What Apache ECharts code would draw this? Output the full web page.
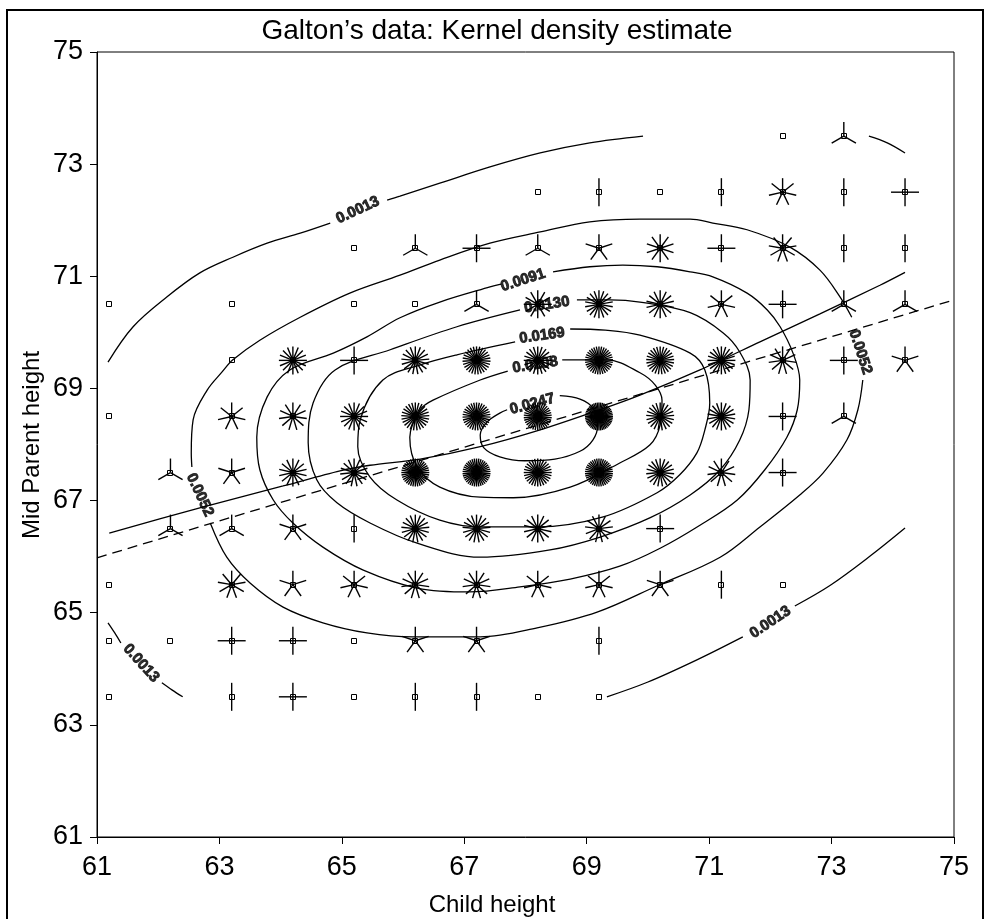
<!DOCTYPE html>
<html><head><meta charset="utf-8">
<script src="https://cdn.jsdelivr.net/npm/echarts@6/dist/echarts.min.js"></script>
<style>html,body{margin:0;padding:0;background:#fff}#c{width:984px;height:919px}</style>
</head><body><div id="c"></div>
<script>
// ---- Data (Galton's table) ----
const childHeights = [61.2,62.2,63.2,64.2,65.2,66.2,67.2,68.2,69.2,70.2,71.2,72.2,73.2,74.2];
const parentHeights = [63.5,64.5,65.5,66.5,67.5,68.5,69.5,70.5,71.5,72.5,73.5];
// counts[row = parent height][col = child height]
const counts = [
  [1,0,2,4,1,2,2,1,1,0,0,0,0,0],
  [1,1,4,4,1,5,5,0,2,0,0,0,0,0],
  [1,0,9,5,7,11,11,7,7,5,2,1,0,0],
  [0,3,3,5,2,17,17,14,13,4,0,0,0,0],
  [0,3,5,14,15,36,38,28,38,19,11,4,0,0],
  [1,0,7,11,16,25,31,34,48,21,18,4,3,0],
  [0,0,1,16,4,17,27,20,33,25,20,11,4,5],
  [1,0,1,0,1,1,3,12,18,14,7,4,3,3],
  [0,0,0,0,1,3,4,3,5,10,4,9,2,2],
  [0,0,0,0,0,0,0,1,2,1,2,7,2,4],
  [0,0,0,0,0,0,0,0,0,0,0,1,3,0]
];
const xTicks = [61,63,65,67,69,71,73,75];
const yTicks = [61,63,65,67,69,71,73,75];

// ---- Kernel density contours, split where labels sit ----
const contour0013 = [
  [[61.18,69.47],[61.59,70.10],[62.14,70.63],[62.68,71.06],[63.22,71.34],[63.78,71.59],[64.32,71.77],[64.81,71.95]],
  [[65.74,72.36],[65.95,72.43],[66.60,72.66],[67.42,72.95],[68.24,73.20],[69.05,73.38],[69.92,73.50]],
  [[73.61,73.50],[73.91,73.38],[74.20,73.20]],
  [[61.18,64.82],[61.29,64.64],[61.39,64.46]],
  [[62.06,63.75],[62.23,63.62],[62.40,63.50]],
  [[69.33,63.50],[69.99,63.76],[70.80,64.16],[71.55,64.57]],
  [[72.40,65.12],[72.98,65.49],[73.63,66.01],[74.20,66.51]]
];
const contour0052 = [
  [[62.55,67.60],[62.54,67.85],[62.57,68.44],[62.80,68.97],[63.04,69.29],[63.22,69.51],[63.66,69.86],[64.32,70.27],[65.13,70.70],[65.95,71.02],[66.60,71.29],[67.42,71.59],[68.24,71.79],[69.05,71.97],[69.87,72.02],[70.69,72.02],[71.06,71.95],[71.62,71.83],[72.32,71.52],[72.81,71.11],[73.14,70.63],[73.33,70.27]],
  [[73.51,69.15],[73.43,68.62],[73.25,68.08],[72.86,67.49],[72.48,67.10],[71.83,66.53],[71.18,65.99],[70.17,65.49],[69.17,65.01],[68.19,64.73],[67.26,64.57],[66.16,64.57],[65.41,64.64],[64.69,64.82],[64.04,65.10],[63.50,65.53],[63.12,65.99],[62.85,66.60]]
];
const contour0091 = [
  [[68.45,71.08],[69.05,71.17],[69.59,71.20],[70.15,71.17],[70.69,71.08],[71.06,70.99],[71.62,70.70],[71.95,70.40],[72.16,70.10],[72.37,69.63],[72.48,69.15],[72.44,68.62],[72.27,68.13],[71.91,67.55],[71.46,67.01],[70.85,66.56],[70.20,66.15],[69.54,65.83],[68.73,65.60],[67.91,65.46],[67.09,65.37],[66.23,65.44],[65.35,65.76],[64.69,66.17],[64.20,66.60],[63.88,67.01],[63.66,67.55],[63.61,68.13],[63.78,68.85],[64.15,69.33],[64.86,69.63],[65.41,69.92],[65.95,70.26],[66.60,70.54],[67.42,70.81],[67.60,70.86]]
];
const contour0130 = [
  [[68.84,70.58],[69.38,70.58],[69.87,70.54],[70.69,70.35],[71.23,69.99],[71.50,69.65],[71.67,69.15],[71.65,68.62],[71.50,68.08],[71.18,67.55],[70.69,67.10],[70.03,66.69],[69.22,66.35],[68.40,66.12],[67.26,65.99],[66.23,66.24],[65.46,66.60],[64.92,66.96],[64.59,67.37],[64.45,68.03],[64.53,68.74],[64.89,69.33],[65.79,69.69],[66.88,70.10],[67.91,70.40]]
];
const contour0169 = [
  [[68.73,70.06],[69.30,70.04],[69.87,69.95],[70.69,69.63],[70.93,69.33],[71.01,68.74],[70.93,68.26],[70.80,67.85],[70.52,67.46],[70.15,67.14],[69.27,66.71],[68.19,66.53],[67.26,66.53],[66.60,66.65],[65.90,67.01],[65.46,67.42],[65.26,67.96],[65.30,68.44],[65.67,69.15],[66.28,69.42],[66.88,69.60],[67.83,69.83]]
];
const contour0208 = [
  [[68.60,69.51],[69.33,69.51],[69.87,69.28],[70.12,69.06],[70.23,68.79],[70.20,68.35],[70.03,67.99],[69.54,67.67],[68.73,67.24],[67.80,67.05],[67.26,67.06],[66.60,67.24],[66.23,67.60],[66.11,68.13],[66.28,68.62],[66.49,68.79],[67.26,69.15],[67.71,69.31]]
];
const contour0247 = [
  [[68.56,68.87],[68.89,68.81],[69.10,68.65],[69.18,68.35],[69.10,68.08],[68.89,67.88],[68.48,67.74],[67.99,67.71],[67.58,67.78],[67.32,67.94],[67.26,68.17],[67.37,68.40],[67.58,68.56],[67.70,68.62]]
];
// contour label: [text, x, y, rotation degrees]
const contourLabels = [
  ['0.0013',65.26,72.18,25],['0.0013',61.72,64.10,-48],['0.0013',72.00,64.83,34],
  ['0.0052',62.68,67.10,-65],['0.0052',73.47,69.65,-72],
  ['0.0091',67.96,70.93,18],['0.0130',68.35,70.49,9],['0.0169',68.27,69.94,8],
  ['0.0208',68.16,69.42,9],['0.0247',68.11,68.72,15]
];
// smooth regression (solid) and linear regression (dashed)
const smoothFit = [[61.20,66.42],[62.68,66.87],[64.04,67.26],[64.97,67.53],[65.46,67.63],[66.28,67.74],[67.26,67.96],[68.24,68.26],[69.22,68.62],[69.87,68.88],[70.85,69.33],[71.83,69.83],[72.81,70.33],[73.79,70.84],[74.20,71.07]];
const linearFit = [[61,65.98],[75,70.58]];

// ---- Build ----
const FONT = "'Liberation Sans', Arial, Helvetica, sans-serif";
const flowerData = [];
parentHeights.forEach((py, r) => childHeights.forEach((cx, c) => {
  if (counts[r][c] > 0) flowerData.push([cx, py, counts[r][c]]);
}));

const series = [];
[contour0013, contour0052, contour0091, contour0130, contour0169, contour0208, contour0247].forEach(segs => {
  segs.forEach(seg => series.push({
    type: 'line', data: seg, showSymbol: false, smooth: 0.35, silent: true,
    lineStyle: {color: '#000', width: 1.3}, z: 3, animation: false
  }));
});
series.push({type:'line', data: smoothFit, showSymbol:false, smooth:0.3, lineStyle:{color:'#000', width:1.3}, z:3, animation:false});
series.push({type:'line', data: linearFit, showSymbol:false, lineStyle:{color:'#000', width:1.3, type:[10,6]}, z:3, animation:false});
series.push({
  type: 'custom', data: flowerData, z: 4, animation: false,
  renderItem: function (params, api) {
    const p = api.coord([api.value(0), api.value(1)]);
    const n = api.value(2);
    const L = 14;
    const ch = [];
    if (n >= 2) {
      for (let k = 0; k < n; k++) {
        const a = Math.PI / 2 + 2 * Math.PI * k / n;
        ch.push({type:'line', shape:{x1:p[0], y1:p[1], x2:p[0] + L*Math.cos(a), y2:p[1] - L*Math.sin(a)},
          style:{stroke:'#000', lineWidth:1.4}});
      }
    }
    const cx = Math.round(p[0]), cy = Math.round(p[1]);
    ch.push({type:'rect', shape:{x:cx-2.5, y:cy-2.5, width:5, height:5}, style:{fill:'none', stroke:'#000', lineWidth:1}});
    return {type:'group', children: ch};
  }
});
series.push({
  type: 'scatter', symbolSize: 0, z: 5, animation: false, silent: true,
  data: contourLabels.map(l => ({value:[l[1], l[2]], name:l[0], label:{rotate:l[3]}})),
  label: {show:true, position:'inside', formatter: p => p.name, color:'#000', textBorderWidth:0.9, textBorderColor:'#000',
    fontSize:15, fontWeight:'bold', fontFamily: FONT}
});

const axisCommon = {
  type: 'value', min: 61, max: 75, interval: 2,
  axisLine: {show: true, lineStyle: {color: '#000', width: 1}},
  axisTick: {show: true, length: 7, lineStyle: {color: '#000', width: 1}},
  axisLabel: {color: '#000', fontSize: 27, fontFamily: FONT, margin: 14, showMinLabel: true, showMaxLabel: true},
  splitLine: {show: false}
};
const chart = echarts.init(document.getElementById('c'), null, {renderer: 'canvas'});
chart.setOption({
  animation: false,
  backgroundColor: '#fff',
  grid: {left: 97, right: 30, top: 52, bottom: 82, show: true, borderColor: '#000', borderWidth: 1, backgroundColor: 'transparent'},
  xAxis: Object.assign({}, axisCommon, {axisLabel: Object.assign({}, axisCommon.axisLabel, {margin: 17})}),
  yAxis: Object.assign({}, axisCommon),
  series: series,
  graphic: [
    {type:'rect', shape:{x:7, y:10, width:976, height:930}, style:{fill:'none', stroke:'#000', lineWidth:2}, z:10},
    {type:'text', x:497, y:31, style:{text:'Galton’s data: Kernel density estimate', fontSize:28, fontFamily:FONT, fill:'#000', textAlign:'center', textVerticalAlign:'middle'}},
    {type:'text', x:492, y:905, style:{text:'Child height', fontSize:24, fontFamily:FONT, fill:'#000', textAlign:'center', textVerticalAlign:'middle'}},
    {type:'text', x:32, y:445, rotation:Math.PI/2, style:{text:'Mid Parent height', fontSize:24, fontFamily:FONT, fill:'#000', textAlign:'center', textVerticalAlign:'middle'}}
  ]
});
</script></body></html>
